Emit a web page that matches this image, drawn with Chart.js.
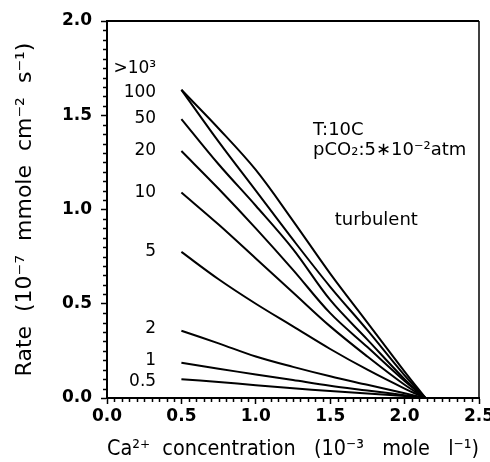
<!DOCTYPE html>
<html>
<head>
<meta charset="utf-8">
<script src="https://cdn.jsdelivr.net/npm/chart.js@4.4.1/dist/chart.umd.min.js"></script>
<style>
  body { margin: 0; background: #fff; }
  canvas { display: block; }
</style>
</head>
<body>
<canvas id="rateChart" width="490" height="462"></canvas>
<script>
// Ca concentration (10^-3 mole/l) where each curve was read
const concentration = [0.5, 0.75, 1.0, 1.25, 1.5, 1.75, 2.0, 2.14];

// dissolution rate (10^-7 mmole cm^-2 s^-1), one curve per label
const rateOver1000 = [1.635, 1.43, 1.21, 0.94, 0.66, 0.40, 0.14, 0];
const rate100 = [1.635, 1.36, 1.10, 0.84, 0.59, 0.36, 0.12, 0];
const rate50 = [1.48, 1.24, 1.02, 0.79, 0.52, 0.31, 0.10, 0];
const rate20 = [1.31, 1.11, 0.90, 0.68, 0.45, 0.27, 0.09, 0];
const rate10 = [1.09, 0.92, 0.74, 0.56, 0.38, 0.22, 0.07, 0];
const rate5 = [0.775, 0.63, 0.50, 0.38, 0.26, 0.15, 0.05, 0];
const rate2 = [0.357, 0.29, 0.22, 0.165, 0.115, 0.07, 0.025, 0];
const rate1 = [0.187, 0.155, 0.125, 0.095, 0.065, 0.04, 0.015, 0];
const rate05 = [0.10, 0.085, 0.068, 0.052, 0.037, 0.024, 0.01, 0];

const curveLabels = ['>10³', '100', '50', '20', '10', '5', '2', '1', '0.5'];
const curves = [rateOver1000, rate100, rate50, rate20, rate10, rate5, rate2, rate1, rate05];
// rate at which each curve label sits, left of the curve start
const labelRates = [1.75, 1.62, 1.48, 1.31, 1.09, 0.775, 0.37, 0.20, 0.085];

const xTitle = 'Ca²⁺  concentration   (10⁻³   mole   l⁻¹)';
const yTitle = 'Rate  (10⁻⁷  mmole  cm⁻²  s⁻¹)';

Chart.defaults.font.family = '"DejaVu Sans", sans-serif';
Chart.defaults.color = '#000';

const datasets = curves.map((vals, i) => ({
    label: curveLabels[i],
    data: vals.map((v, j) => ({ x: concentration[j], y: v })),
    borderColor: '#000',
    borderWidth: 2,
    pointRadius: 0,
    tension: 0.35,
    fill: false
}));

const extras = {
    id: 'extras',
    afterDraw(chart) {
        const { ctx, chartArea, scales } = chart;
        const x = scales.x, y = scales.y;
        ctx.save();

        // box round the plot
        ctx.strokeStyle = '#000';
        ctx.lineWidth = 2;
        ctx.beginPath();
        ctx.moveTo(chartArea.left, chartArea.top);
        ctx.lineTo(chartArea.right, chartArea.top);
        ctx.stroke();
        ctx.lineWidth = 1.5;
        ctx.beginPath();
        ctx.moveTo(chartArea.right, chartArea.top);
        ctx.lineTo(chartArea.right, chartArea.bottom);
        ctx.stroke();

        // minor ticks every 0.05
        ctx.lineWidth = 1.5;
        ctx.beginPath();
        for (let i = 1; i < 40; i++) {
            if (i % 10 === 0) continue;
            const py = Math.round(y.getPixelForValue(i * 0.05)) + 0.5;
            ctx.moveTo(chartArea.left - 4, py);
            ctx.lineTo(chartArea.left, py);
        }
        for (let i = 1; i < 50; i++) {
            if (i % 10 === 0) continue;
            const px = Math.round(x.getPixelForValue(i * 0.05)) + 0.5;
            ctx.moveTo(px, chartArea.bottom);
            ctx.lineTo(px, chartArea.bottom + 4);
        }
        ctx.stroke();

        // curve labels
        ctx.fillStyle = '#000';
        ctx.font = '17px "DejaVu Sans"';
        ctx.textAlign = 'right';
        ctx.textBaseline = 'middle';
        curveLabels.forEach((name, i) => {
            ctx.fillText(name, x.getPixelForValue(0.33), y.getPixelForValue(labelRates[i]));
        });

        // conditions
        ctx.font = '18px "DejaVu Sans"';
        ctx.textAlign = 'left';
        ctx.fillText('T:10C', x.getPixelForValue(1.385), y.getPixelForValue(1.42));
        ctx.fillText('pCO₂:5∗10⁻²atm', x.getPixelForValue(1.385), y.getPixelForValue(1.315));
        ctx.fillText('turbulent', x.getPixelForValue(1.53), y.getPixelForValue(0.944));
        ctx.restore();
    }
};

const ctx = document.getElementById('rateChart').getContext('2d');
const chart = new Chart(ctx, {
    type: 'line',
    data: { datasets },
    options: {
        responsive: false,
        animation: false,
        layout: { padding: { left: 0, right: 11, top: 21, bottom: 0 } },
        plugins: {
            legend: { display: false },
            tooltip: { enabled: false }
        },
        scales: {
            x: {
                type: 'linear',
                min: 0,
                max: 2.5,
                ticks: {
                    stepSize: 0.5,
                    padding: 2,
                    font: { size: 17, weight: 'bold' },
                    callback: v => v.toFixed(1)
                },
                grid: { drawOnChartArea: false, tickLength: 6, tickColor: '#000', tickWidth: 1.5 },
                border: { color: '#000', width: 2 },
                title: {
                    display: true,
                    text: xTitle,
                    font: { size: 22 },
                    padding: { top: 4, bottom: 0 }
                },
                afterFit: s => { s.height = 64; s.paddingRight = 0; }
            },
            y: {
                min: 0,
                max: 2,
                ticks: {
                    stepSize: 0.5,
                    padding: 9,
                    font: { size: 17, weight: 'bold' },
                    callback: v => v.toFixed(1)
                },
                grid: { drawOnChartArea: false, tickLength: 6, tickColor: '#000', tickWidth: 1.5 },
                border: { color: '#000', width: 2 },
                title: {
                    display: true,
                    text: yTitle,
                    font: { size: 22 },
                    padding: { top: 12, bottom: 0 }
                },
                afterFit: s => { s.width = 107; }
            }
        }
    },
    plugins: [extras]
});
</script>
</body>
</html>
